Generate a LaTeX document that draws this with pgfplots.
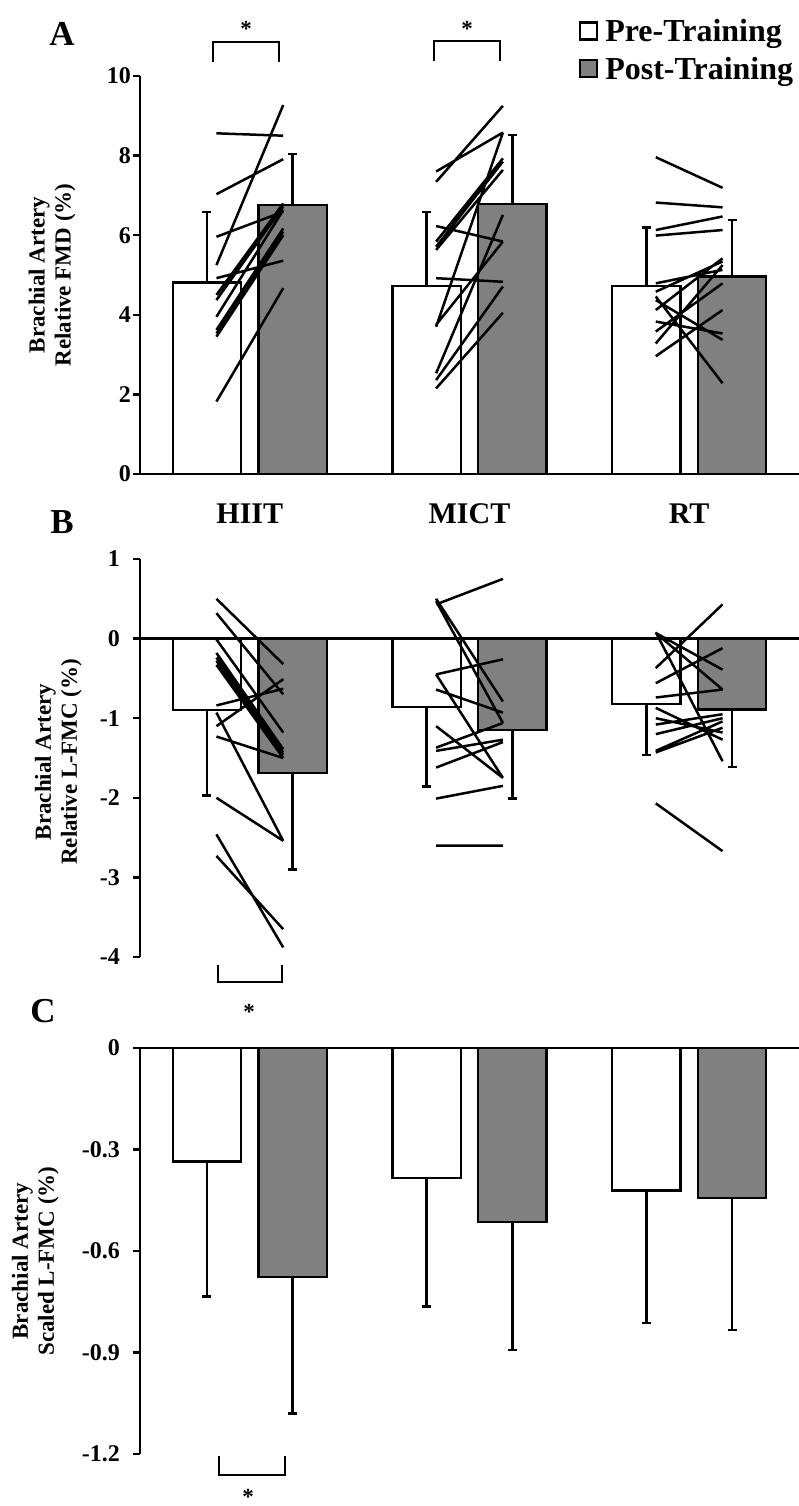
\documentclass[border=0pt]{standalone}
\usepackage{fontspec}
\setmainfont{Liberation Serif}
\usepackage{pgfplots}
\pgfplotsset{compat=1.18}

% x positions: groups at 0,1,2; bars at +-0.195, subject lines at +-0.152
\pgfplotsset{
  panel/.style={
    scale only axis, width=659pt,
    xmin=-0.5, xmax=2.5,
    clip=false,
    axis y line*=left,
    axis line style={line width=2.4pt, black},
    tick align=outside,
    major tick length=7pt,
    every tick/.style={line width=2.4pt, black},
    yticklabel style={font=\fontsize{24}{24}\selectfont\bfseries, inner sep=2pt},
    ylabel style={font=\fontsize{23}{26}\selectfont\bfseries, align=center, anchor=center},
  },
  barstyle/.style={ybar, bar width=0.31, bar shift=0pt, draw=black, line width=2.4pt,
    error bars/y explicit, error bars/y dir=#1,
    error bars/error bar style={line width=2.4pt, black},
    error bars/error mark options={rotate=90, line width=2.4pt, mark size=4.5pt, black}},
  prebar/.style={barstyle=#1, fill=white},
  postbar/.style={barstyle=#1, fill=black!50},
  indiv/.style={black, line width=2.5pt, no markers, unbounded coords=jump, forget plot},
}

\begin{document}
\begin{tikzpicture}

%%%%%%%%%%%%%%%% Panel A
\begin{axis}[panel, at={(140pt,-474pt)}, anchor=south west, height=398pt,
  ymin=0, ymax=10,
  axis x line*=bottom,
  xtick={0,1,2}, xticklabels={HIIT,MICT,RT},
  xtick style={draw=none},
  xticklabel style={font=\fontsize{30}{30}\selectfont\bfseries, anchor=base, yshift=-42pt},
  ytick={0,2,4,6,8,10}, yticklabels={0,2,4,6,8,10},
  ylabel={Brachial Artery\\Relative FMD (\%)},
  ylabel style={at={(axis description cs:-0.1335,0.5)}},
  legend style={at={(axis description cs:0.666,1.147)}, anchor=north west,
    draw=none, fill=none, font=\fontsize{32}{34}\selectfont\bfseries,
    row sep=10pt, inner sep=0pt,
    /tikz/every odd column/.append style={column sep=5pt}},
  legend cell align=left,
]
\addplot[prebar=plus, legend image code/.code={\draw[black, fill=white, line width=2.2pt] (0pt,-8pt) rectangle (17pt,9pt);}]
  coordinates {(-0.195,4.81) +- (0,1.78) (0.805,4.72) +- (0,1.87) (1.805,4.73) +- (0,1.46)};
\addlegendentry{Pre-Training}
\addplot[postbar=plus, legend image code/.code={\draw[black, fill=black!50, line width=2.2pt] (0pt,-8pt) rectangle (17pt,9pt);}]
  coordinates {(0.195,6.76) +- (0,1.28) (1.195,6.78) +- (0,1.74) (2.195,4.96) +- (0,1.42)};
\addlegendentry{Post-Training}
% HIIT subjects
\addplot[indiv] coordinates {
  (-0.152,8.56) (0.152,8.50) (nan,nan) (-0.152,5.25) (0.152,9.27) (nan,nan)
  (-0.152,7.03) (0.152,7.91) (nan,nan) (-0.152,5.96) (0.152,6.59) (nan,nan)
  (-0.152,4.92) (0.152,5.36) (nan,nan) (-0.152,1.82) (0.152,4.67) (nan,nan)
  (-0.152,4.50) (0.152,6.80) (nan,nan) (-0.152,4.37) (0.152,6.72) (nan,nan)
  (-0.152,3.95) (0.152,6.63) (nan,nan) (-0.152,3.62) (0.152,6.17) (nan,nan)
  (-0.152,3.53) (0.152,6.09) (nan,nan) (-0.152,3.45) (0.152,6.00)};
% MICT subjects
\addplot[indiv] coordinates {
  (0.848,7.34) (1.152,9.25) (nan,nan) (0.848,7.60) (1.152,8.58) (nan,nan)
  (0.848,6.23) (1.152,5.84) (nan,nan) (0.848,3.70) (1.152,8.58) (nan,nan)
  (0.848,5.84) (1.152,7.93) (nan,nan) (0.848,5.71) (1.152,7.85) (nan,nan)
  (0.848,5.63) (1.152,7.64) (nan,nan) (0.848,4.92) (1.152,4.83) (nan,nan)
  (0.848,2.53) (1.152,6.51) (nan,nan) (0.848,2.36) (1.152,4.71) (nan,nan)
  (0.848,2.15) (1.152,4.05) (nan,nan) (0.848,3.75) (1.152,5.84)};
% RT subjects
\addplot[indiv] coordinates {
  (1.848,7.96) (2.152,7.19) (nan,nan) (1.848,6.82) (2.152,6.70) (nan,nan)
  (1.848,6.13) (2.152,6.47) (nan,nan) (1.848,5.99) (2.152,6.13) (nan,nan)
  (1.848,4.79) (2.152,5.13) (nan,nan) (1.848,4.58) (2.152,5.34) (nan,nan)
  (1.848,4.46) (2.152,2.28) (nan,nan) (1.848,4.37) (2.152,3.37) (nan,nan)
  (1.848,4.12) (2.152,5.42) (nan,nan) (1.848,3.83) (2.152,3.53) (nan,nan)
  (1.848,3.58) (2.152,4.79) (nan,nan) (1.848,3.28) (2.152,5.25) (nan,nan)
  (1.848,2.96) (2.152,4.12)};
\end{axis}

%%%%%%%%%%%%%%%% Panel B
\begin{axis}[panel, at={(140pt,-957pt)}, anchor=south west, height=398pt,
  ymin=-4, ymax=1,
  axis x line=none,
  ytick={-4,-3,-2,-1,0,1}, yticklabels={-4,-3,-2,-1,0,1},
  yticklabel style={xshift=-11pt},
  ylabel={Brachial Artery\\Relative L-FMC (\%)},
  ylabel style={at={(axis description cs:-0.124,0.49)}},
]
\draw[line width=2.4pt] (axis cs:-0.5,0) -- (axis cs:2.5,0);
\addplot[prebar=minus]
  coordinates {(-0.195,-0.90) +- (0,1.07) (0.805,-0.86) +- (0,1.00) (1.805,-0.82) +- (0,0.64)};
\addplot[postbar=minus]
  coordinates {(0.195,-1.69) +- (0,1.21) (1.195,-1.15) +- (0,0.86) (2.195,-0.89) +- (0,0.72)};
% HIIT subjects
\addplot[indiv] coordinates {
  (-0.152,0.50) (0.152,-0.32) (nan,nan) (-0.152,0.32) (0.152,-0.70) (nan,nan)
  (-0.152,-0.01) (0.152,-1.18) (nan,nan) (-0.152,-0.18) (0.152,-1.39) (nan,nan)
  (-0.152,-0.24) (0.152,-1.43) (nan,nan) (-0.152,-0.28) (0.152,-1.46) (nan,nan)
  (-0.152,-0.33) (0.152,-1.50) (nan,nan) (-0.152,-0.84) (0.152,-0.63) (nan,nan)
  (-0.152,-1.10) (0.152,-0.51) (nan,nan) (-0.152,-1.23) (0.152,-1.50) (nan,nan)
  (-0.152,-0.93) (0.152,-2.54) (nan,nan) (-0.152,-2.00) (0.152,-2.54) (nan,nan)
  (-0.152,-2.46) (0.152,-3.88) (nan,nan) (-0.152,-2.73) (0.152,-3.65)};
% MICT subjects
\addplot[indiv] coordinates {
  (0.848,0.43) (1.152,0.75) (nan,nan) (0.848,0.50) (1.152,-0.79) (nan,nan)
  (0.848,0.47) (1.152,-1.06) (nan,nan) (0.848,-0.45) (1.152,-0.26) (nan,nan)
  (0.848,-0.45) (1.152,-1.75) (nan,nan) (0.848,-0.64) (1.152,-0.93) (nan,nan)
  (0.848,-1.10) (1.152,-1.75) (nan,nan) (0.848,-1.37) (1.152,-1.06) (nan,nan)
  (0.848,-1.41) (1.152,-1.27) (nan,nan) (0.848,-1.62) (1.152,-1.30) (nan,nan)
  (0.848,-2.01) (1.152,-1.85) (nan,nan) (0.848,-2.60) (1.152,-2.60)};
% RT subjects
\addplot[indiv] coordinates {
  (1.848,-0.37) (2.152,0.43) (nan,nan) (1.848,0.08) (2.152,-1.54) (nan,nan)
  (1.848,0.07) (2.152,-0.64) (nan,nan) (1.848,0.07) (2.152,-0.39) (nan,nan)
  (1.848,-0.56) (2.152,-0.12) (nan,nan) (1.848,-0.74) (2.152,-0.64) (nan,nan)
  (1.848,-0.87) (2.152,-1.27) (nan,nan) (1.848,-1.00) (2.152,-1.18) (nan,nan)
  (1.848,-1.08) (2.152,-0.95) (nan,nan) (1.848,-1.20) (2.152,-1.00) (nan,nan)
  (1.848,-1.41) (2.152,-1.04) (nan,nan) (1.848,-1.43) (2.152,-1.12) (nan,nan)
  (1.848,-2.07) (2.152,-2.67)};
\end{axis}

%%%%%%%%%%%%%%%% Panel C
\begin{axis}[panel, at={(140pt,-1454pt)}, anchor=south west, height=406pt,
  ymin=-1.2, ymax=0,
  axis x line=none,
  ytick={-1.2,-0.9,-0.6,-0.3,0}, yticklabels={-1.2,-0.9,-0.6,-0.3,0},
  yticklabel style={xshift=-11pt},
  ylabel={Brachial Artery\\Scaled L-FMC (\%)},
  ylabel style={at={(axis description cs:-0.159,0.475)}},
]
\draw[line width=2.4pt] (axis cs:-0.5,0) -- (axis cs:2.5,0);
\addplot[prebar=minus]
  coordinates {(-0.195,-0.335) +- (0,0.40) (0.805,-0.385) +- (0,0.379) (1.805,-0.421) +- (0,0.391)};
\addplot[postbar=minus]
  coordinates {(0.195,-0.677) +- (0,0.403) (1.195,-0.515) +- (0,0.377) (2.195,-0.444) +- (0,0.389)};
\end{axis}

%%%%%%%%%%%%%%%% panel letters, brackets, asterisks
\tikzset{lbl/.style={font=\fontsize{35}{35}\selectfont\bfseries},
         star/.style={font=\fontsize{23}{23}\selectfont\bfseries, anchor=base},
         brk/.style={line width=2.4pt, black}}
\node[lbl] at (62pt,-34pt) {A};
\node[lbl] at (62pt,-522pt) {B};
\node[lbl] at (43pt,-1011pt) {C};

\draw[brk] (213pt,-62pt) -- (213pt,-42pt) -- (279pt,-42pt) -- (279pt,-62pt);
\node[star] at (246pt,-37pt) {*};
\draw[brk] (434pt,-61pt) -- (434pt,-41pt) -- (500pt,-41pt) -- (500pt,-61pt);
\node[star] at (467pt,-37pt) {*};

\draw[brk] (218pt,-965pt) -- (218pt,-982pt) -- (282pt,-982pt) -- (282pt,-965pt);
\node[star] at (249pt,-1019pt) {*};

\draw[brk] (219pt,-1456pt) -- (219pt,-1475pt) -- (285pt,-1475pt) -- (285pt,-1456pt);
\node[star] at (248pt,-1504pt) {*};

\pgfresetboundingbox
\path[use as bounding box] (0pt,0pt) rectangle (799pt,-1506pt);
\end{tikzpicture}
\end{document}
